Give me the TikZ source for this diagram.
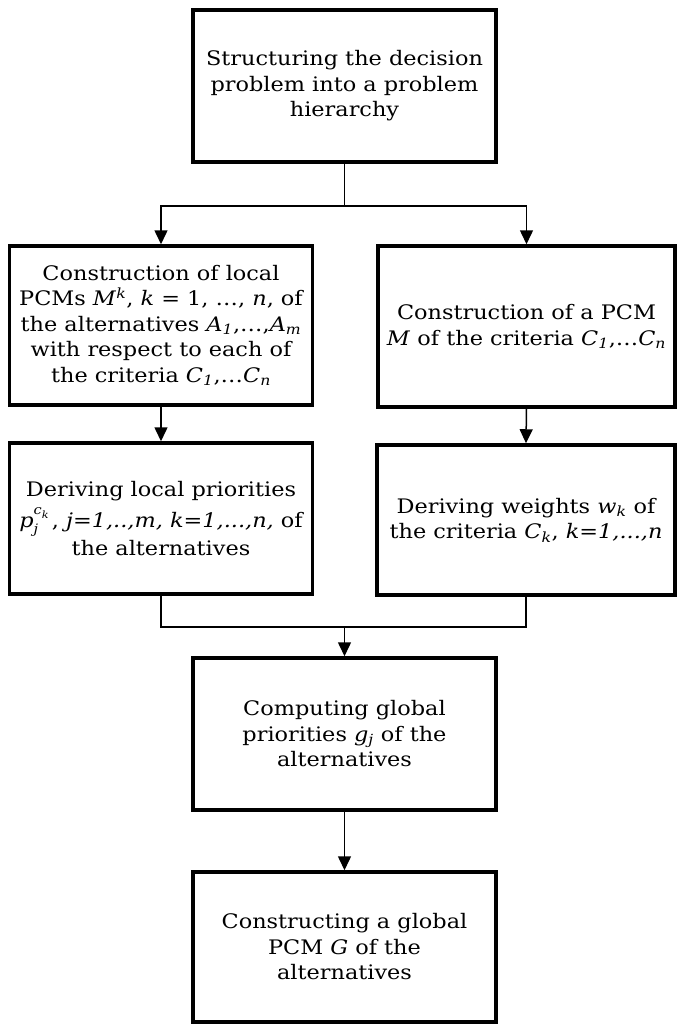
\documentclass[tikz,border=0pt]{standalone}
\usepackage{fontspec}
\setmainfont[FakeStretch=1.12]{DejaVu Serif}
\usetikzlibrary{positioning,arrows.meta}

\newcommand{\iv}[1]{\textit{#1}}
\newcommand{\lo}[1]{\textsubscript{\textit{#1}}}
\newcommand{\scr}[2]{{\fontsize{#1}{#1}\selectfont\iv{#2}}}

\begin{document}
\begin{tikzpicture}[x=1pt,y=1pt,
        box/.style={draw,line width=3.5pt,minimum width=303pt,
            minimum height=152pt,align=center,inner sep=2pt,
            font=\fontsize{20}{25.5}\selectfont},
        link/.style={line width=1.5pt},
        arr/.style={link,-{Triangle[width=13pt,length=14pt]}}
    ]
\useasboundingbox (0,0) rectangle (677,-1026);
\node[box] (struct) at (344.5,-86)
    {Structuring the decision\\ problem into a problem\\ hierarchy};
\node[box,minimum height=159pt] (localpcm) at (161,-325.5)
    {Construction of local\\
     PCMs \iv{M}\textsuperscript{\iv{k}}, \iv{k} = 1, \ldots, \iv{n}, of\\
     the alternatives \iv{A}\lo{1},\ldots,\iv{A}\lo{m}\\
     with respect to each of\\
     the criteria \iv{C}\lo{1},\ldots\iv{C}\lo{n}};
\node[box,minimum width=297pt,minimum height=161pt] (critpcm) at (526.5,-326.5)
    {Construction of a PCM\\ \iv{M} of the criteria \iv{C}\lo{1},\ldots\iv{C}\lo{n}};
\node[box,minimum height=151pt] (localprio) at (161,-518.5)
    {Deriving local priorities\\[6pt]
     \iv{p}\rlap{\raisebox{-0.5ex}{\scr{13}{j}}}\raisebox{1.3ex}{\scr{13}{c}\raisebox{-0.4ex}{\scr{10}{k}}}\,,
     \iv{j=1,..,m, k=1,...,n,} of\\[2pt]
     the alternatives};
\node[box,minimum width=298pt,minimum height=150pt] (weights) at (526,-520)
    {Deriving weights \iv{w}\lo{k} of\\ the criteria \iv{C}\lo{k}, \iv{k=1,...,n}};
\node[box] (globprio) at (344.5,-734)
    {Computing global\\ priorities \iv{g}\lo{j} of the\\ alternatives};
\node[box,minimum height=150pt] (globpcm) at (344.5,-947)
    {Constructing a global\\ PCM \iv{G} of the\\ alternatives};

% split and merge points
\coordinate (split) at (344.5,-206);
\coordinate (merge) at (344.5,-627);

\draw[link] (struct.south) -- (split);
\draw[arr] (split) -| (localpcm.north);
\draw[arr] (split) -| (critpcm.north);
\draw[arr] (localpcm.south) -- (localprio.north);
\draw[arr] (critpcm.south) -- (weights.north);
\draw[link] (localprio.south) |- (merge) -| (weights.south);
\draw[arr] (merge) -- (globprio.north);
\draw[arr] (globprio.south) -- (globpcm.north);
\end{tikzpicture}
\end{document}
